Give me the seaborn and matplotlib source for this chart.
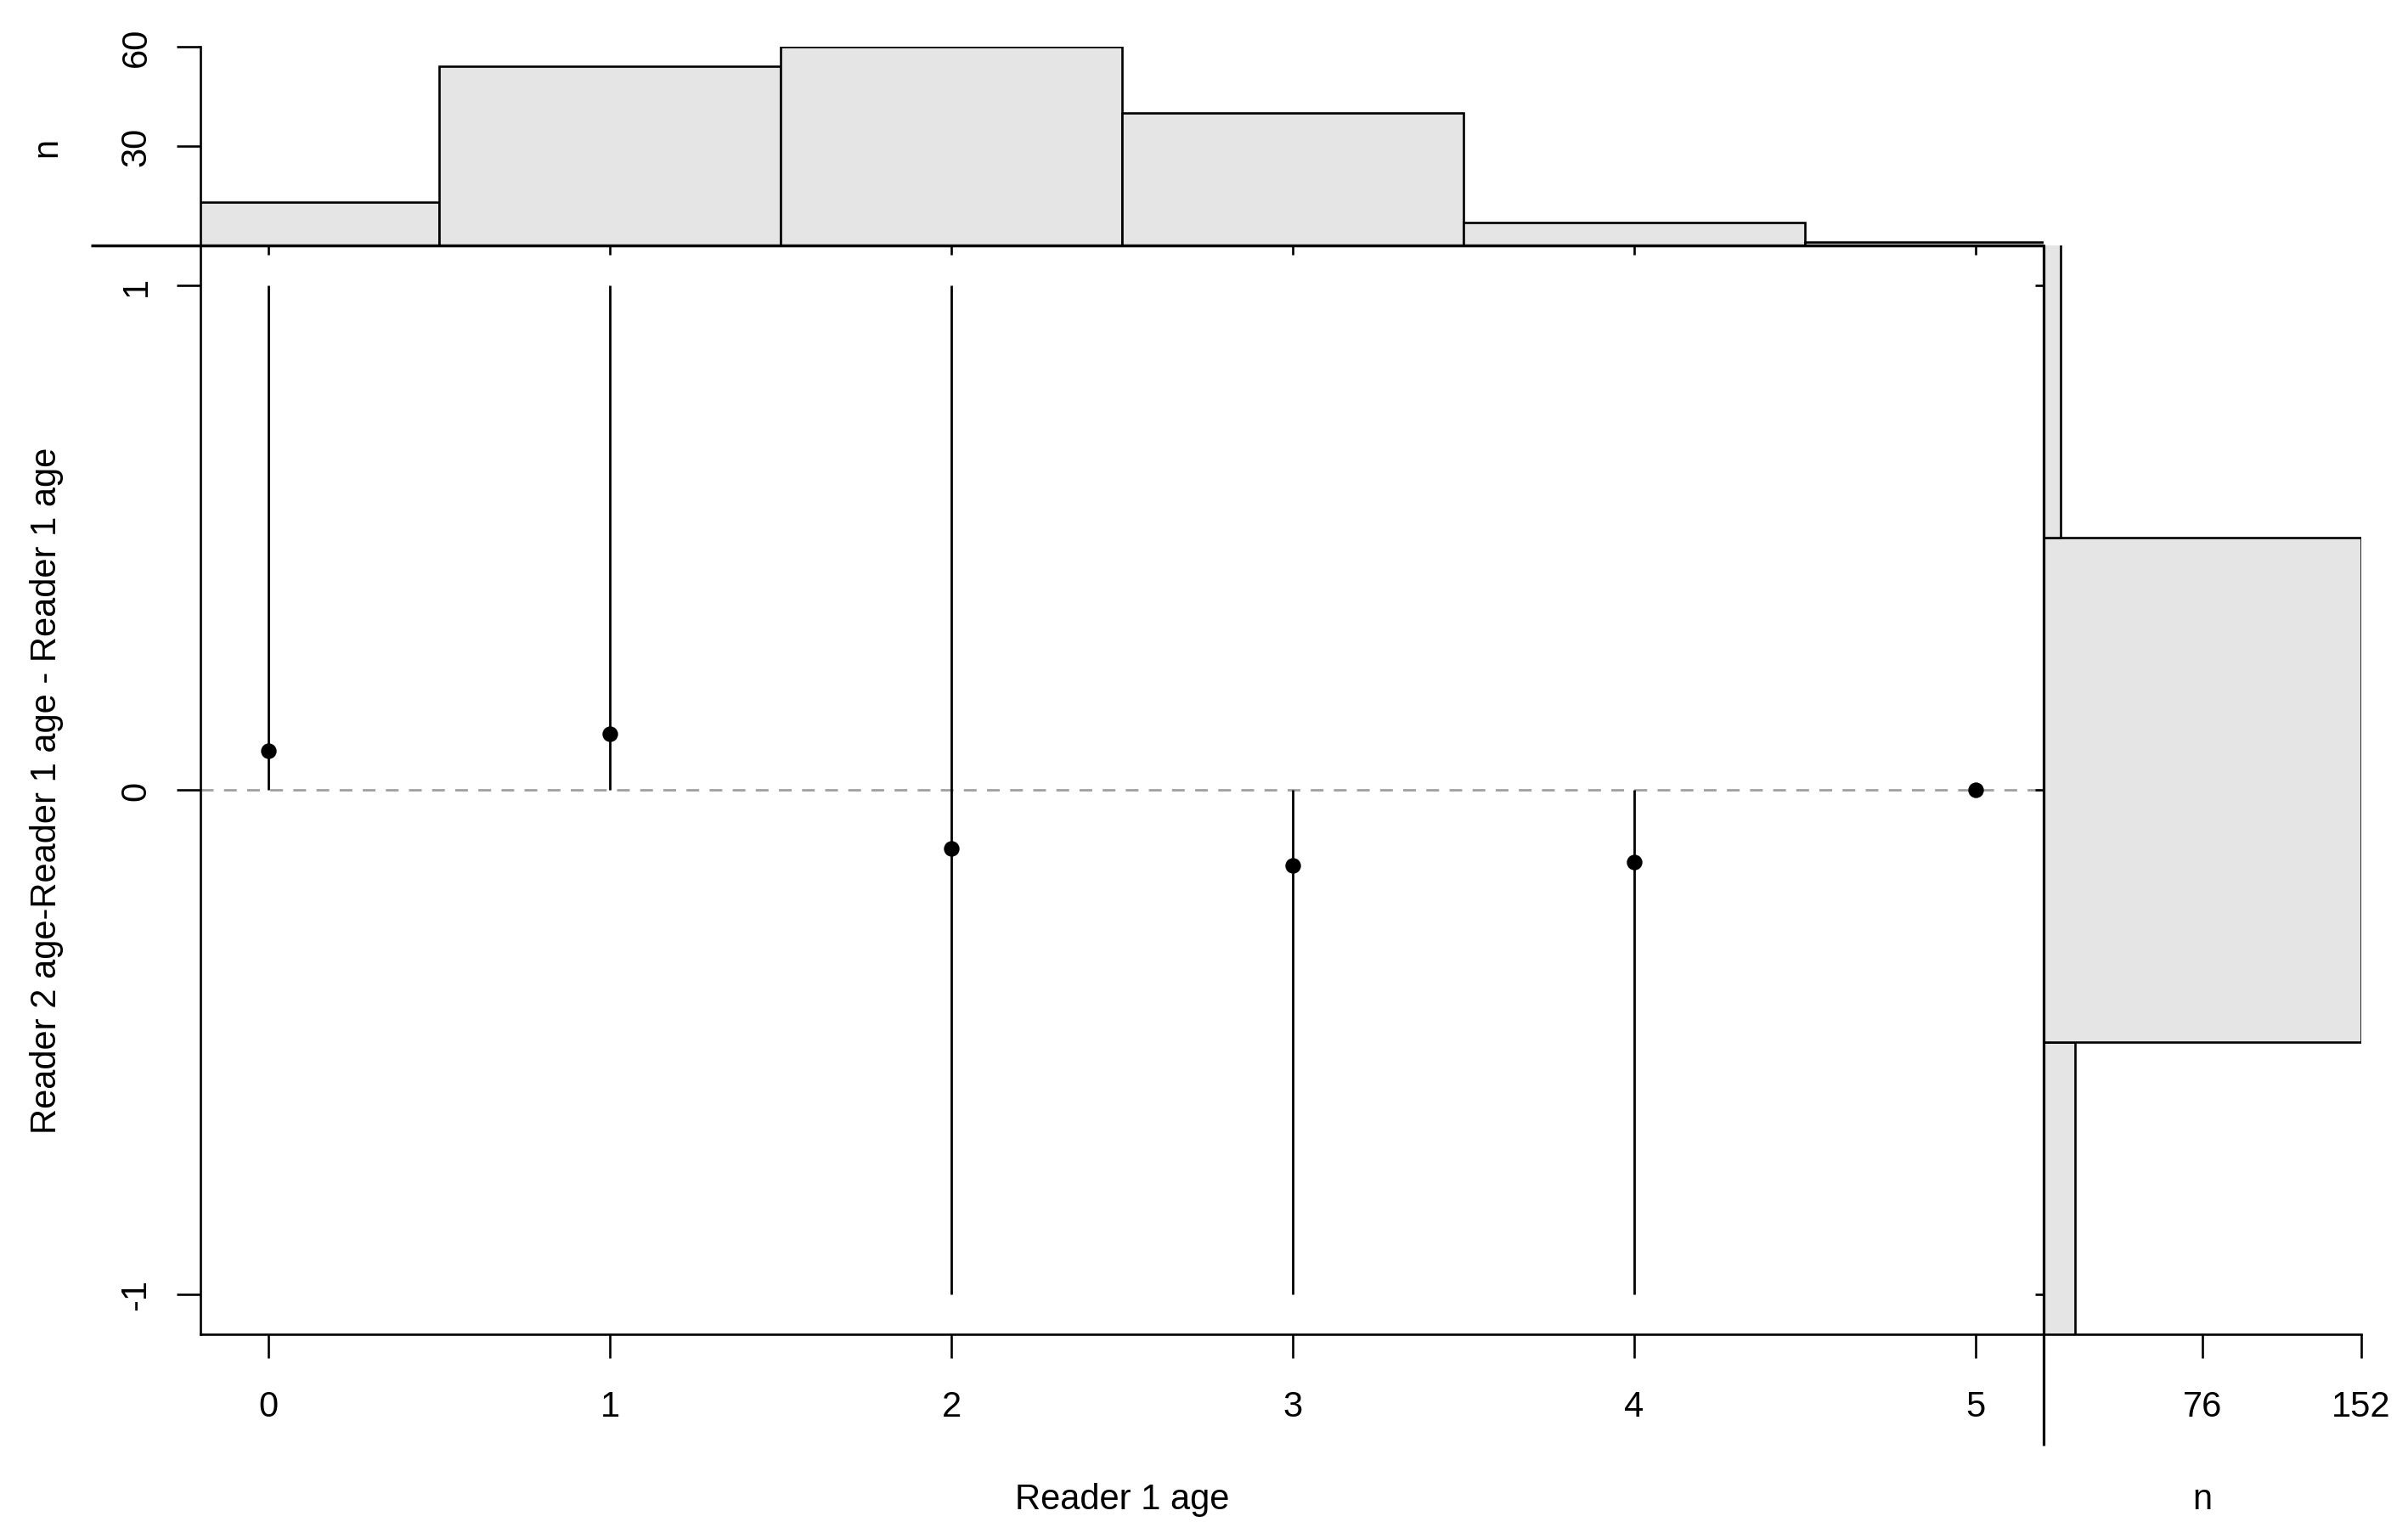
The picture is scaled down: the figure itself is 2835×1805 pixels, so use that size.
import numpy as np
import pandas as pd
import matplotlib
matplotlib.use("Agg")
import matplotlib.pyplot as plt
import seaborn as sns

# ---- data ----
ages = [0, 1, 2, 3, 4, 5]                 # Reader 1 age
n_minus1 = [0, 0, 8, 6, 1, 0]             # Reader2 - Reader1 = -1
n_zero = [12, 48, 51, 34, 6, 1]           # Reader2 - Reader1 = 0
n_plus1 = [1, 6, 1, 0, 0, 0]              # Reader2 - Reader1 = +1
diff_levels = [-1, 0, 1]
x_ticks = [0, 1, 2, 3, 4, 5]
y_ticks = [-1, 0, 1]
top_ticks = [30, 60]
right_ticks = [76, 152]

df = pd.DataFrame({"age": ages, "m1": n_minus1, "z": n_zero, "p1": n_plus1})
df["n"] = df["m1"] + df["z"] + df["p1"]
df["mean"] = (df["p1"] - df["m1"]) / df["n"]
df["lo"] = np.where(df["m1"] > 0, -1, 0)
df["hi"] = np.where(df["p1"] > 0, 1, 0)
diff_counts = [sum(n_minus1), sum(n_zero), sum(n_plus1)]

sns.set_theme(style="white")
plt.rcParams["font.family"] = ["Liberation Sans", "DejaVu Sans"]
plt.rcParams["axes.linewidth"] = 1.8

W, H = 2835, 1806
fig = plt.figure(figsize=(W / 100, H / 100), dpi=100)

L, R, T, B = 236, 2406, 290, 1572
TOP_T = 56
RR = 2780


def fx(px):
    return px / W


def fy(py):
    return 1 - py / H


ax = fig.add_axes([fx(L), fy(B), fx(R) - fx(L), fy(T) - fy(B)])
ax_top = fig.add_axes([fx(L), fy(T), fx(R) - fx(L), fy(TOP_T) - fy(T)])
ax_right = fig.add_axes([fx(R), fy(B), fx(RR) - fx(R), fy(T) - fy(B)])
for a in (ax, ax_top, ax_right):
    a.set_facecolor("none")

LW = 1.9
FS = 30
GRAY_FILL = "#E5E5E5"

# ---- main plot ----
ax.axhline(0, color="#A0A0A0", lw=2.0, linestyle=(0, (5.4, 4.4)), zorder=1)
ax.vlines(df["age"], df["lo"], df["hi"], color="black", lw=2.0, zorder=2)
sns.scatterplot(data=df, x="age", y="mean", ax=ax, color="black", s=175,
                linewidth=0, zorder=3)
ax.set_xlim(-0.2, 5.2)
ax.set_ylim(-1.08, 1.08)
ax.set_xticks(x_ticks)
ax.set_yticks(y_ticks)
ax.set_xticklabels([str(v) for v in x_ticks])
ax.set_yticklabels([str(v) for v in y_ticks], rotation=90, va="center")
ax.tick_params(axis="both", direction="out", length=20, width=LW,
               labelsize=FS, colors="black", bottom=True, left=True)
ax.tick_params(axis="x", pad=27)
ax.tick_params(axis="y", pad=20)
for s in ax.spines.values():
    s.set_visible(True)
    s.set_color("black")
    s.set_linewidth(LW)
ax.set_xlabel("Reader 1 age", fontsize=FS, color="black")
ax.set_ylabel("Reader 2 age-Reader 1 age - Reader 1 age", fontsize=FS,
              color="black")
ax.xaxis.set_label_coords(0.5, (B - 1766) / (B - T))
ax.xaxis.label.set_va("center")
ax.yaxis.set_label_coords((55 - L) / (R - L), 0.5)
ax.yaxis.label.set_va("center")

# ---- top histogram ----
sns.histplot(x=ages, weights=df["n"], discrete=True, ax=ax_top,
             color=GRAY_FILL, edgecolor="black", linewidth=LW, alpha=1)
ax_top.set_xlim(-0.2, 5.2)
ax_top.set_ylim(0, 60)
ax_top.set_xticks(x_ticks)
ax_top.set_xticklabels([])
ax_top.set_yticks(top_ticks)
ax_top.set_yticklabels([str(v) for v in top_ticks], rotation=90, va="center")
ax_top.tick_params(axis="x", direction="out", length=8, width=LW,
                   colors="black", bottom=True)
ax_top.tick_params(axis="y", direction="out", length=20, width=LW,
                   labelsize=FS, colors="black", left=True, pad=20)
for k in ("top", "right", "bottom"):
    ax_top.spines[k].set_visible(False)
ax_top.spines["left"].set_visible(True)
ax_top.spines["left"].set_color("black")
ax_top.spines["left"].set_linewidth(LW)
ax_top.plot([(107 - L) / (R - L), 1], [0, 0], transform=ax_top.transAxes,
            color="black", lw=LW + 0.6, clip_on=False, solid_capstyle="butt")
ax_top.set_xlabel("")
ax_top.set_ylabel("n", fontsize=FS, color="black")
ax_top.yaxis.set_label_coords((55 - L) / (R - L), 0.5)
ax_top.yaxis.label.set_va("center")

# ---- right histogram ----
sns.histplot(y=np.repeat(diff_levels, 1), weights=diff_counts, discrete=True,
             ax=ax_right, color=GRAY_FILL, edgecolor="black", linewidth=LW,
             alpha=1)
ax_right.set_ylim(-1.08, 1.08)
ax_right.set_xlim(0, 152)
ax_right.set_xticks(right_ticks)
ax_right.set_xticklabels([str(v) for v in right_ticks])
ax_right.set_yticks(y_ticks)
ax_right.set_yticklabels([])
ax_right.tick_params(axis="x", direction="out", length=20, width=LW,
                     labelsize=FS, colors="black", bottom=True, pad=27)
ax_right.tick_params(axis="y", direction="out", length=7, width=LW,
                     colors="black", left=True)
for k in ("top", "right", "left"):
    ax_right.spines[k].set_visible(False)
ax_right.spines["bottom"].set_visible(True)
ax_right.spines["bottom"].set_color("black")
ax_right.spines["bottom"].set_linewidth(LW)
ax_right.plot([0, 0], [(B - 1703) / (B - T), 1], transform=ax_right.transAxes,
              color="black", lw=LW + 0.4, clip_on=False, solid_capstyle="butt")
ax_right.set_ylabel("")
ax_right.set_xlabel("n", fontsize=FS, color="black")
ax_right.xaxis.set_label_coords(0.5, (B - 1766) / (B - T))
ax_right.xaxis.label.set_va("center")

fig.savefig("out.png", dpi=100, facecolor="white")
